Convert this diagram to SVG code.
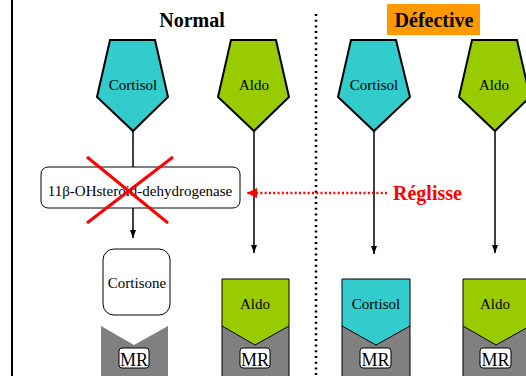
<svg xmlns="http://www.w3.org/2000/svg" width="526" height="376" viewBox="0 0 526 376">
<style>
.serif{font-family:"Liberation Serif","Times New Roman",serif;}
.pent{stroke:#000;stroke-width:2;stroke-linejoin:miter;}
.cyan{fill:#33CCCC;}
.green{fill:#99CC00;}
.grey{fill:#808080;}
.lbl{font-size:15px;text-anchor:middle;fill:#000;}
.title{font-size:20px;font-weight:bold;text-anchor:middle;}
.conn{stroke:#000;stroke-width:1.5;fill:none;}
.mrbox{fill:#fff;stroke:#000;stroke-width:1;}
.mr{font-size:18px;text-anchor:middle;}
</style>
<defs>
<marker id="ah" viewBox="0 0 8 8" refX="8" refY="4" markerWidth="8" markerHeight="8" markerUnits="userSpaceOnUse" orient="auto">
<path d="M0,1 L8,4 L0,7 Z" fill="#000"/>
</marker>
<marker id="ahr" viewBox="0 0 10 10" refX="10" refY="5" markerWidth="10" markerHeight="10" markerUnits="userSpaceOnUse" orient="auto">
<path d="M0,0 L10,5 L0,10 Z" fill="#FF0000"/>
</marker>
</defs>
<rect width="526" height="376" fill="#fff"/>
<line x1="12" y1="0" x2="12" y2="376" stroke="#000" stroke-width="2"/>
<line x1="316" y1="14" x2="316" y2="376" stroke="#000" stroke-width="2.5" stroke-dasharray="2,3.7"/>

<g id="title-normal"><text class="serif title" x="192" y="27">Normal</text></g>
<g id="title-defective">
<rect x="387" y="4" width="93" height="31" fill="#FF9900"/>
<text class="serif title" x="434" y="27">Défective</text>
</g>

<g id="connectors">
<line class="conn" x1="133" y1="131" x2="133" y2="167"/>
<line class="conn" x1="133" y1="208" x2="133" y2="238" marker-end="url(#ah)"/>
<line class="conn" x1="254" y1="131" x2="254" y2="253" marker-end="url(#ah)"/>
<line class="conn" x1="374" y1="131" x2="374" y2="254" marker-end="url(#ah)"/>
<line class="conn" x1="495" y1="131" x2="495" y2="253" marker-end="url(#ah)"/>
<line x1="387" y1="193" x2="247" y2="193" stroke="#FF0000" stroke-width="2.5" stroke-dasharray="2,2.3" marker-end="url(#ahr)"/>
</g>

<g id="cortisol-normal">
<polygon class="pent cyan" points="110,40 155,40 168,97 133,131 97,97"/>
<text class="serif lbl" x="133" y="90">Cortisol</text>
</g>
<g id="aldo-normal">
<polygon class="pent green" points="231,40 276,40 289,97 254,131 218,97"/>
<text class="serif lbl" x="254" y="90">Aldo</text>
</g>
<g id="cortisol-defective">
<polygon class="pent cyan" points="351,40 396,40 410,97 374,131 338,97"/>
<text class="serif lbl" x="374" y="90">Cortisol</text>
</g>
<g id="aldo-defective">
<polygon class="pent green" points="472,40 517,40 530,97 495,131 459,97"/>
<text class="serif lbl" x="494" y="90">Aldo</text>
</g>

<g id="enzyme">
<rect x="41" y="167" width="199" height="41" rx="7" fill="#fff" stroke="#000" stroke-width="1"/>
<text class="serif lbl" x="140" y="196">11β-OHsteroid-dehydrogenase</text>
<line x1="87" y1="157" x2="168" y2="223" stroke="#FF0000" stroke-width="3"/>
<line x1="173" y1="157" x2="87" y2="223" stroke="#FF0000" stroke-width="3"/>
</g>

<g id="reglisse">
<text class="serif" x="393" y="200" font-size="20" font-weight="bold" fill="#FF0000">Réglisse</text>
</g>

<g id="cortisone">
<rect x="103" y="249" width="67" height="66" rx="11" fill="#fff" stroke="#000" stroke-width="1"/>
<text class="serif lbl" x="137" y="288">Cortisone</text>
</g>

<g id="mr-empty">
<polygon class="grey" points="101,326 134,345 168,326 168,376 101,376"/>
<rect class="mrbox" x="119" y="348" width="30" height="20" rx="3"/>
<text class="serif mr" x="134" y="366">MR</text>
</g>

<g id="mr-aldo-normal">
<rect class="grey" x="222" y="279" width="67" height="97"/>
<polygon class="green" points="222,279 289,279 289,326 255,345 222,326"/>
<path d="M222,376 V279 H289 V376 M222,326 L255,345 L289,326" fill="none" stroke="#000" stroke-width="1"/>
<text class="serif lbl" x="255" y="309">Aldo</text>
<rect class="mrbox" x="240" y="348" width="30" height="20" rx="3"/>
<text class="serif mr" x="255" y="366">MR</text>
</g>

<g id="mr-cortisol-defective">
<rect class="grey" x="342" y="279" width="68" height="97"/>
<polygon class="cyan" points="342,279 410,279 410,326 376,345 342,326"/>
<path d="M342,376 V279 H410 V376 M342,326 L376,345 L410,326" fill="none" stroke="#000" stroke-width="1"/>
<text class="serif lbl" x="376" y="309">Cortisol</text>
<rect class="mrbox" x="360" y="348" width="31" height="20" rx="3"/>
<text class="serif mr" x="375.5" y="366">MR</text>
</g>

<g id="mr-aldo-defective">
<rect class="grey" x="463" y="279" width="67" height="97"/>
<polygon class="green" points="463,279 530,279 530,326 496,345 463,326"/>
<path d="M463,376 V279 H530 V376 M463,326 L496,345 L530,326" fill="none" stroke="#000" stroke-width="1"/>
<text class="serif lbl" x="495" y="309">Aldo</text>
<rect class="mrbox" x="480" y="348" width="31" height="20" rx="3"/>
<text class="serif mr" x="495.5" y="366">MR</text>
</g>
</svg>
